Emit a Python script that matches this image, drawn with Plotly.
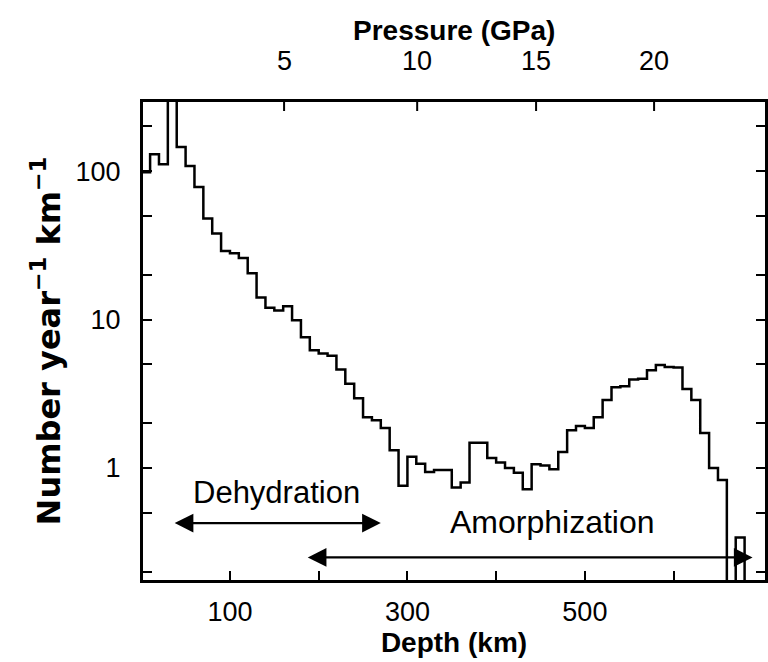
import numpy as np
import plotly.graph_objects as go

# ---------------- data ----------------
bin_width_km = 10
bin_left_km = list(range(0, 690, 10))
# events per year per km (values below the axis floor stand for empty bins)
rate = [98, 130, 111, 700, 145, 108, 78, 48, 38, 29,
        28, 26, 20.5, 14.1, 12.0, 11.5, 12.3, 9.9, 7.6, 6.2,
        5.9, 5.7, 4.6, 3.7, 2.95, 2.2, 2.1, 1.86, 1.32, 0.76,
        1.19, 1.07, 0.94, 0.97, 0.97, 0.74, 0.80, 1.48, 1.48, 1.17,
        1.09, 1.0, 0.93, 0.72, 1.06, 1.04, 0.98, 1.28, 1.8, 1.92,
        1.86, 2.2, 2.87, 3.5, 3.55, 3.95, 4.0, 4.55, 4.95, 4.8,
        4.75, 3.4, 2.87, 1.72, 1.0, 0.83, 0.05, 0.34, 0.05]

depth_major_ticks = [100, 300, 500]
depth_minor_ticks = [200, 400, 600]
pressure_gpa = ["5", "10", "15", "20"]
pressure_depth_km = [161, 311, 445, 578]
rate_major_ticks = [1, 10, 100]
rate_minor_ticks = [0.2, 0.5, 2, 5, 20, 50, 200]

dehydration_span_km = [36, 270]
amorphization_span_km = [186, 689]

x_step = bin_left_km + [bin_left_km[-1] + bin_width_km]
y_step = rate + [rate[-1]]

FONT = "Liberation Sans, Arial, Helvetica, sans-serif"
TICKFONT = dict(size=27)
TITLEFONT = dict(size=28, weight="bold")
PLOT_H = 662 - 102 - 82

fig = go.Figure()
fig.add_trace(go.Scatter(x=x_step, y=y_step, mode="lines",
                         line=dict(color="black", width=2.5, shape="hv"),
                         showlegend=False, hoverinfo="skip"))

xr = [2, 703]
tick_style = dict(ticks="inside", ticklen=9, tickwidth=2, tickcolor="black")
minor_style = dict(ticks="inside", ticklen=9, tickwidth=2, tickcolor="black", showgrid=False)
fig.update_layout(
    width=768, height=662,
    margin=dict(l=143, r=3, t=102, b=82, autoexpand=False),
    paper_bgcolor="white", plot_bgcolor="white", showlegend=False,
    font=dict(family=FONT, color="black", size=23),
    xaxis=dict(range=xr, showgrid=False, zeroline=False, automargin=False,
               showline=True, linecolor="black", linewidth=3, mirror=True,
               tickvals=depth_major_ticks, tickfont=TICKFONT,
               minor=dict(tickvals=depth_minor_ticks, **minor_style),
               ticklabelstandoff=6, **tick_style,
               title=dict(text="Depth (km)", font=TITLEFONT, standoff=4)),
    yaxis=dict(type="log", range=[-0.754, 2.465], showgrid=False, zeroline=False,
               automargin=False,
               showline=True, linecolor="black", linewidth=3, mirror="ticks",
               tickvals=rate_major_ticks, tickfont=TICKFONT,
               minor=dict(tickvals=rate_minor_ticks, **minor_style),
               ticklabelstandoff=14, **tick_style,
               title=dict(text="Number year<sup>−1</sup> km<sup>−1</sup>",
                          font=dict(family="DejaVu Sans, sans-serif", size=32, weight="bold"),
                          standoff=6)),
)

# top pressure axis: ticks and labels positioned on the depth scale
shapes = []
annots = []
for d, p in zip(pressure_depth_km, pressure_gpa):
    shapes.append(dict(type="line", xref="x", yref="paper", x0=d, x1=d,
                       y0=1, y1=1 - 9 / PLOT_H, line=dict(color="black", width=2)))
    annots.append(dict(x=d, y=1, xref="x", yref="paper", yanchor="middle", yshift=41,
                       text=p, showarrow=False, font=TICKFONT))
annots.append(dict(x=0.5, y=1, xref="paper", yref="paper", yanchor="middle", yshift=72,
                   text="Pressure (GPa)", showarrow=False, font=TITLEFONT))

annots.append(dict(x=float(np.mean(dehydration_span_km)), y=np.log10(0.68), xref="x", yref="y",
                   text="Dehydration", showarrow=False, font=dict(size=31)))
annots.append(dict(x=463, y=np.log10(0.43), xref="x", yref="y",
                   text="Amorphization", showarrow=False, font=dict(size=32)))
annots.append(dict(x=dehydration_span_km[1], y=np.log10(0.426), ax=dehydration_span_km[0], ay=np.log10(0.426),
                   xref="x", yref="y", axref="x", ayref="y", text="", showarrow=True,
                   arrowhead=2, arrowside="end+start", arrowsize=1.7, arrowwidth=2.2, arrowcolor="black"))
annots.append(dict(x=amorphization_span_km[1], y=np.log10(0.25), ax=amorphization_span_km[0], ay=np.log10(0.25),
                   xref="x", yref="y", axref="x", ayref="y", text="", showarrow=True,
                   arrowhead=2, arrowside="end+start", arrowsize=1.7, arrowwidth=2.2, arrowcolor="black"))
fig.update_layout(annotations=annots, shapes=shapes)

fig.write_html("out.html")
